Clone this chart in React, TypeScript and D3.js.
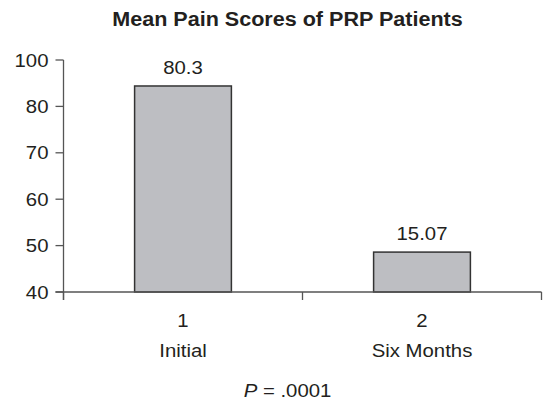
import React from "react";
import * as d3 from "d3";

const categories = ["Initial", "Six Months"];
const categoryNumbers = ["1", "2"];
const barValues = [84.4, 48.6];
const valueLabels = ["80.3", "15.07"];
const tickValues = [40, 50, 60, 70, 80, 90];
const tickLabels = ["40", "50", "60", "70", "80", "100"];
const title = "Mean Pain Scores of PRP Patients";
const footnoteValue = " = .0001";

const W = 549;
const H = 404;
const margin = { left: 63.5, right: 7.5, top: 60, bottom: 112 };
const FONT = "'Liberation Sans', Arial, Helvetica, sans-serif";
const TXT = "#231f20";

export default function App() {
  const x = d3
    .scaleBand<string>()
    .domain(categories)
    .range([margin.left, W - margin.right])
    .paddingInner(0.595)
    .paddingOuter(0.2975);
  const step = x.step();
  const y = d3.scaleLinear().domain([40, 90]).range([H - margin.bottom, margin.top]);
  const y0 = y(40);
  const sx = 1.1;
  const fs = 18.5;

  const T = (props: { x: number; y: number; children: React.ReactNode; anchor?: string; weight?: string; size?: number }) => (
    <text
      transform={`translate(${props.x},${props.y}) scale(${sx},1)`}
      textAnchor={props.anchor || "middle"}
      fontFamily={FONT}
      fontSize={props.size || fs}
      fontWeight={props.weight || "normal"}
      fill={TXT}
    >
      {props.children}
    </text>
  );

  return (
    <svg width={W} height={H} style={{ position: "absolute", left: 0, top: 0, background: "#fff" }}>
      <T x={287.5} y={25.5} weight="bold" size={19.6}>
        {title}
      </T>
      {categories.map((c, i) => {
        const bx = x(c)!;
        const by = y(barValues[i]);
        return (
          <g key={c}>
            <rect x={bx} y={by} width={x.bandwidth()} height={y0 - by} fill="#bdbec2" stroke="#333" strokeWidth={1.5} />
            <T x={bx + x.bandwidth() / 2} y={by - 12}>
              {valueLabels[i]}
            </T>
            <T x={bx + x.bandwidth() / 2} y={327}>
              {categoryNumbers[i]}
            </T>
            <T x={bx + x.bandwidth() / 2} y={357}>
              {c}
            </T>
          </g>
        );
      })}
      {/* y axis */}
      <line x1={margin.left} x2={margin.left} y1={y(90)} y2={y0 + 8} stroke="#555" strokeWidth={1.3} />
      {tickValues.map((t, i) => (
        <g key={t}>
          <line x1={margin.left - 8} x2={margin.left} y1={y(t)} y2={y(t)} stroke="#555" strokeWidth={1.3} />
          <T x={margin.left - 15} y={y(t) + 6.5} anchor="end">
            {tickLabels[i]}
          </T>
        </g>
      ))}
      {/* x axis */}
      <line x1={margin.left - 8} x2={W - margin.right} y1={y0} y2={y0} stroke="#555" strokeWidth={1.3} />
      {d3.range(categories.length + 1).map((k) => (
        <line key={k} x1={margin.left + k * step} x2={margin.left + k * step} y1={y0} y2={y0 + 8} stroke="#555" strokeWidth={1.3} />
      ))}
      <text
        transform={`translate(287.5,397) scale(${sx},1)`}
        textAnchor="middle"
        fontFamily={FONT}
        fontSize={fs}
        fill={TXT}
      >
        <tspan fontStyle="italic">P</tspan>
        {footnoteValue}
      </text>
    </svg>
  );
}
